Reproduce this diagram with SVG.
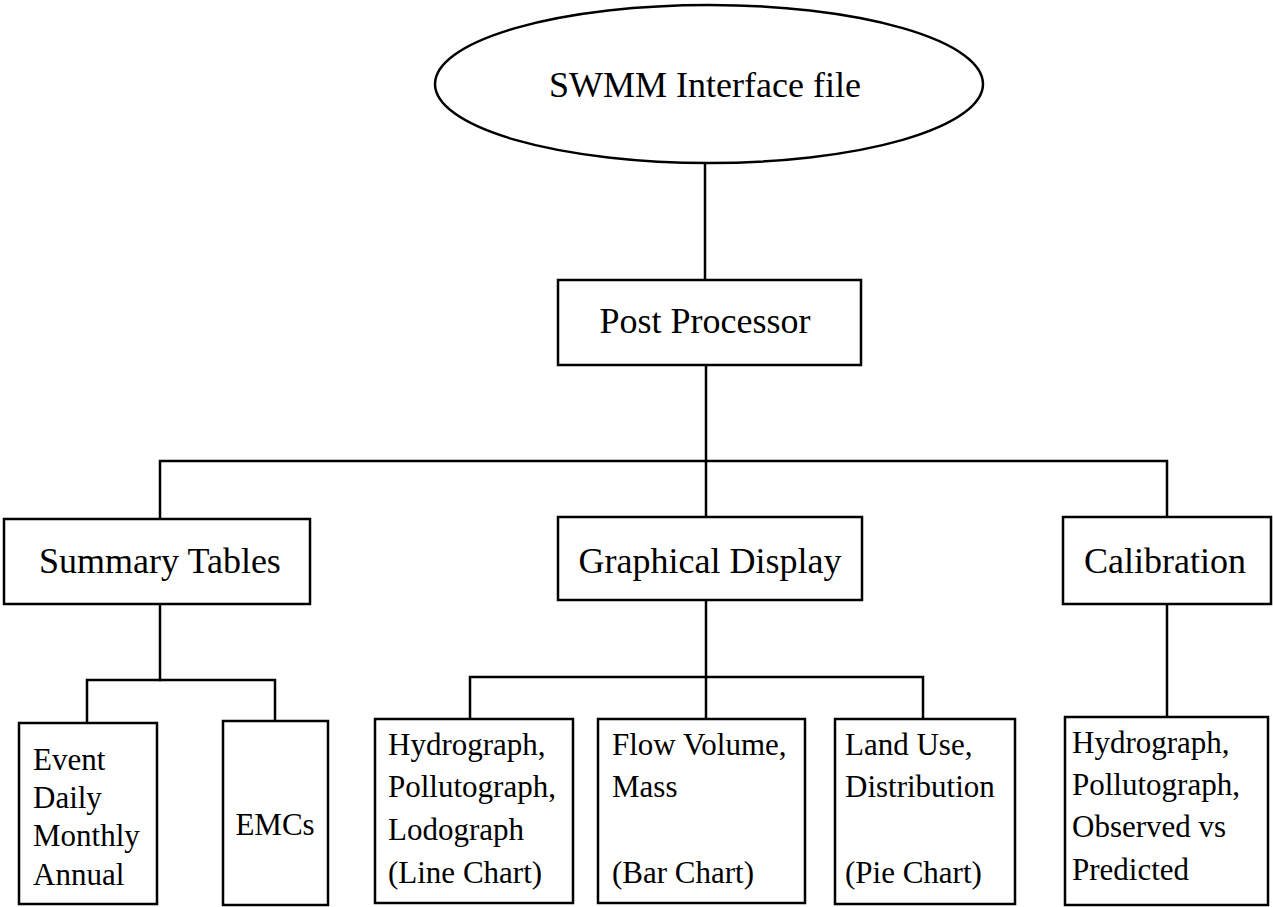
<svg xmlns="http://www.w3.org/2000/svg" width="1273" height="907" viewBox="0 0 1273 907">
<style>
  .box { fill: #fff; stroke: #000; stroke-width: 2.5; }
  .ln { fill: none; stroke: #000; stroke-width: 2.5; stroke-linecap: square; }
  .t1 { font-family: "Liberation Serif", "Times New Roman", serif; font-size: 36px; fill: #000; text-anchor: middle; }
  .t2 { font-family: "Liberation Serif", "Times New Roman", serif; font-size: 31px; fill: #000; }
</style>
<rect width="1273" height="907" fill="#fff"/>
<g id="connectors">
  <path class="ln" d="M705 163 V280"/>
  <path class="ln" d="M706 365 V461"/>
  <path class="ln" d="M160 519 V461 H1167 V517"/>
  <path class="ln" d="M706 461 V517"/>
  <path class="ln" d="M160 604 V680"/>
  <path class="ln" d="M87 723 V680 H275 V721"/>
  <path class="ln" d="M706 600 V677"/>
  <path class="ln" d="M470 719 V677 H923 V719"/>
  <path class="ln" d="M706 677 V719"/>
  <path class="ln" d="M1167 604 V717"/>
</g>
<g id="swmm">
  <ellipse class="box" cx="709" cy="84" rx="274" ry="79"/>
  <text class="t1" x="705" y="97">SWMM Interface file</text>
</g>
<g id="post">
  <rect class="box" x="558" y="280" width="303" height="85"/>
  <text class="t1" x="705" y="333">Post Processor</text>
</g>
<g id="summary">
  <rect class="box" x="4" y="519" width="306" height="85"/>
  <text class="t1" x="160" y="573">Summary Tables</text>
</g>
<g id="graphical">
  <rect class="box" x="558" y="517" width="304" height="83"/>
  <text class="t1" x="710" y="573">Graphical Display</text>
</g>
<g id="calibration">
  <rect class="box" x="1063" y="517" width="208" height="87"/>
  <text class="t1" x="1165" y="573">Calibration</text>
</g>
<g id="event">
  <rect class="box" x="19" y="723" width="138" height="181"/>
  <text class="t2" x="33" y="770">Event</text>
  <text class="t2" x="33" y="808">Daily</text>
  <text class="t2" x="33" y="846">Monthly</text>
  <text class="t2" x="33" y="885">Annual</text>
</g>
<g id="emcs">
  <rect class="box" x="223" y="721" width="105" height="184"/>
  <text class="t2" x="275" y="835" text-anchor="middle">EMCs</text>
</g>
<g id="linechart">
  <rect class="box" x="375" y="719" width="198" height="184"/>
  <text class="t2" x="388" y="755">Hydrograph,</text>
  <text class="t2" x="388" y="797">Pollutograph,</text>
  <text class="t2" x="388" y="840">Lodograph</text>
  <text class="t2" x="388" y="883">(Line Chart)</text>
</g>
<g id="barchart">
  <rect class="box" x="598" y="719" width="207" height="184"/>
  <text class="t2" x="612" y="755">Flow Volume,</text>
  <text class="t2" x="612" y="797">Mass</text>
  <text class="t2" x="612" y="883">(Bar Chart)</text>
</g>
<g id="piechart">
  <rect class="box" x="835" y="719" width="180" height="185"/>
  <text class="t2" x="845" y="755">Land Use,</text>
  <text class="t2" x="845" y="797">Distribution</text>
  <text class="t2" x="845" y="883">(Pie Chart)</text>
</g>
<g id="calresults">
  <rect class="box" x="1065" y="717" width="203" height="188"/>
  <text class="t2" x="1072" y="753">Hydrograph,</text>
  <text class="t2" x="1072" y="795">Pollutograph,</text>
  <text class="t2" x="1072" y="837">Observed vs</text>
  <text class="t2" x="1072" y="880">Predicted</text>
</g>
</svg>
